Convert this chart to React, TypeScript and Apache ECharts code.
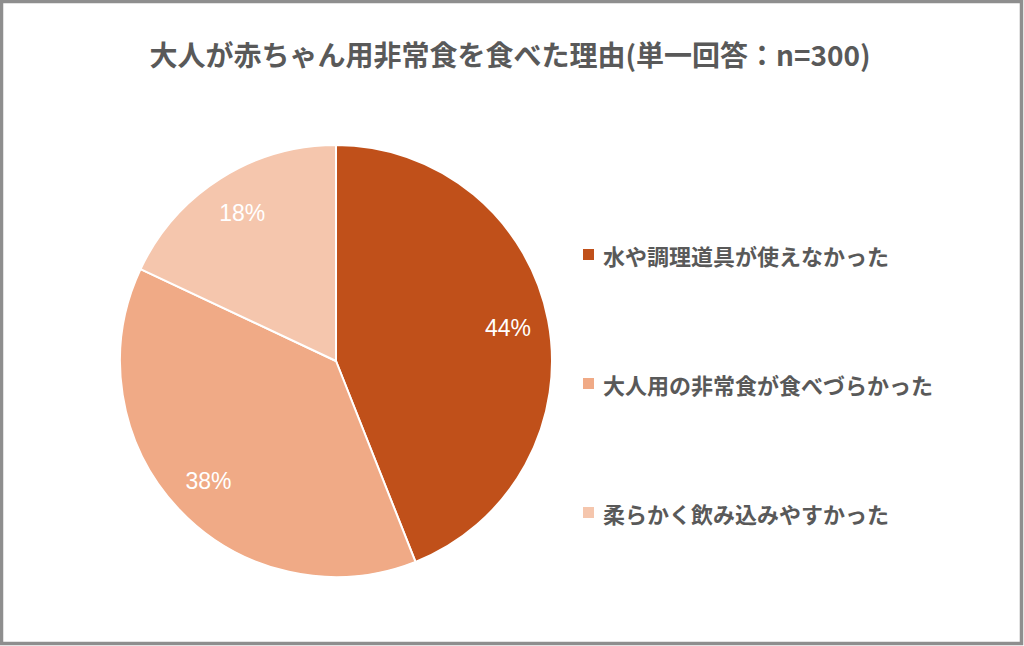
import React, { useEffect, useRef } from "react";
import * as echarts from "echarts";

const titleText = "大人が赤ちゃん用非常食を食べた理由(単一回答：n=300)";
const categories = [
  "水や調理道具が使えなかった",
  "大人用の非常食が食べづらかった",
  "柔らかく飲み込みやすかった",
];
const values = [44, 38, 18];
const colors = ["#C0501A", "#F0AA86", "#F5C6AD"];

export default function App() {
  const ref = useRef<HTMLDivElement>(null);
  useEffect(() => {
    if (!ref.current) return;
    const chart = echarts.init(ref.current, null, { renderer: "svg" });
    const data = categories.map((name, i) => ({
      name,
      value: values[i],
      itemStyle: { color: colors[i] },
    }));
    chart.setOption({
      animation: false,
      backgroundColor: "#ffffff",
      title: {
        text: titleText,
        left: 505,
        textAlign: "center",
        top: 33,
        textStyle: {
          fontFamily: "Noto Sans CJK JP",
          fontWeight: "bold",
          fontSize: 28,
          lineHeight: 32,
          color: "#595959",
        },
      },
      legend: {
        orient: "vertical",
        left: 576,
        top: 236,
        itemWidth: 13,
        itemHeight: 13,
        itemGap: 102,
        icon: "rect",
        data: categories,
        textStyle: {
          fontFamily: "Noto Sans CJK JP",
          fontWeight: "bold",
          fontSize: 22,
          lineHeight: 27,
          color: "#595959",
          padding: [0, 0, 0, 3],
        },
      },
      graphic: [
        {
          type: "rect",
          shape: { x: 1.5, y: 1.5, width: 1020, height: 642 },
          style: { fill: "none", stroke: "#8e8e8e", lineWidth: 3.5 },
          silent: true,
          z: 100,
        },
      ],
      series: [
        {
          type: "pie",
          center: [336, 361],
          radius: 216,
          startAngle: 90,
          clockwise: true,
          data,
          label: { show: false },
          labelLine: { show: false },
          itemStyle: { borderColor: "#ffffff", borderWidth: 2 },
          emphasis: { disabled: true },
        },
        {
          type: "pie",
          center: [336, 361],
          radius: [128, 216],
          startAngle: 90,
          clockwise: true,
          silent: true,
          data: categories.map((name, i) => ({ name, value: values[i] })),
          itemStyle: { color: "rgba(0,0,0,0)" },
          label: {
            show: true,
            position: "inside",
            formatter: "{c}%",
            color: "#ffffff",
            fontFamily: "Liberation Sans",
            fontSize: 23,
          },
          labelLine: { show: false },
          emphasis: { disabled: true },
        },
      ],
    });
    return () => chart.dispose();
  }, []);
  return (
    <div
      ref={ref}
      style={{ position: "absolute", left: 0, top: 0, width: 1024, height: 646 }}
    />
  );
}
